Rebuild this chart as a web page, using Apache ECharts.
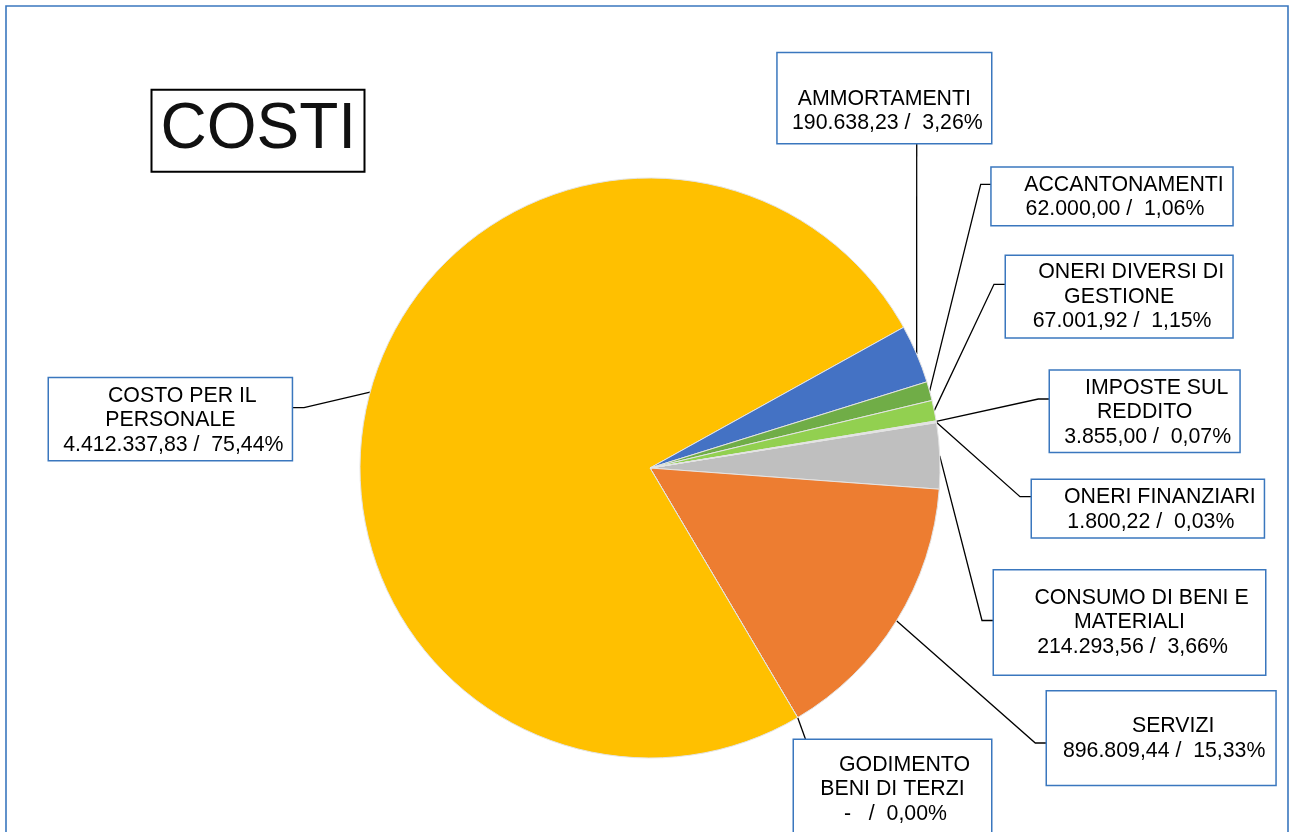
<!DOCTYPE html>
<html>
<head>
<meta charset="utf-8">
<title>COSTI</title>
<style>
  html, body { margin: 0; padding: 0; background: #ffffff; }
  #chart { width: 1293px; height: 832px; }
</style>
<script src="https://cdn.jsdelivr.net/npm/echarts@6/dist/echarts.min.js"></script>
</head>
<body>
<div id="chart"></div>
<script>
// Cost items, in the order they are drawn clockwise
const categories = [
  'CONSUMO DI BENI E MATERIALI',
  'SERVIZI',
  'GODIMENTO BENI DI TERZI',
  'COSTO PER IL PERSONALE',
  'AMMORTAMENTI',
  'ACCANTONAMENTI',
  'ONERI DIVERSI DI GESTIONE',
  'IMPOSTE SUL REDDITO',
  'ONERI FINANZIARI'
];
const amounts = [214293.56, 896809.44, 0, 4412337.83, 190638.23, 62000.00, 67001.92, 3855.00, 1800.22];
const sliceColors = ['#BFBFBF', '#ED7D31', '#A5A5A5', '#FFC000', '#4472C4', '#70AD47', '#92D050', '#D9D9D9', '#D9D9D9'];

// Callout boxes: box rect, centre of first text line, wrap width in characters,
// whether the first line is indented, and the leader elbow / end points.
const callouts = [
  { x: 994,   y: 570.5, w: 271,   h: 104,  firstY: 598,   wrap: 17, indent: true,  elbow: [982, 620.5],   end: [994, 620.5] },
  { x: 1047,  y: 691.5, w: 228.3, h: 93.2, firstY: 726.6, wrap: 40, indent: true,  elbow: [1035.3, 743],  end: [1047, 743] },
  { x: 794,   y: 740,   w: 197,   h: 110,  firstY: 765,   wrap: 13, indent: true,  elbow: [805.8, 740],   end: [805.8, 740] },
  { x: 49,    y: 378.3, w: 242.7, h: 81.7, firstY: 395.8, wrap: 12, indent: true,  elbow: [304, 407.7],   end: [291.7, 407.7] },
  { x: 777.7, y: 53.3,  w: 213.3, h: 89.7, firstY: 98.7,  wrap: 40, indent: false, elbow: [916.7, 143],   end: [916.7, 143] },
  { x: 991.7, y: 167.7, w: 240.6, h: 57.3, firstY: 184.7, wrap: 40, indent: true,  elbow: [980.7, 184.3], end: [991.7, 184.3] },
  { x: 1006,  y: 256,   w: 226.3, h: 81.3, firstY: 272.3, wrap: 16, indent: true,  elbow: [994, 284.3],   end: [1006, 284.3] },
  { x: 1050,  y: 370.7, w: 189.3, h: 81,   firstY: 388,   wrap: 11, indent: true,  elbow: [1038.3, 399],  end: [1050, 399] },
  { x: 1032,  y: 480,   w: 231.7, h: 57.3, firstY: 497.3, wrap: 40, indent: true,  elbow: [1020, 496.7],  end: [1032, 496.7] }
];

const FONT = "'Liberation Sans', Arial, Helvetica, sans-serif";
const FONT_SIZE = 21.3;
const LINE_H = 24.5;
const BOX_BLUE = '#3A77BE';

function wrapWords(text, maxChars) {
  const words = text.split(' ');
  const lines = [];
  let cur = '';
  words.forEach(function (w) {
    if (cur && cur.length + 1 + w.length > maxChars) {
      lines.push(cur);
      cur = w;
    } else {
      cur = cur ? cur + ' ' + w : w;
    }
  });
  if (cur) lines.push(cur);
  return lines;
}

// Italian number format: 4.412.337,83 ; zero shown as a dash
function fmtAmount(v) {
  if (v === 0) return '-  ';
  const parts = v.toFixed(2).split('.');
  return parts[0].replace(/\B(?=(\d{3})+(?!\d))/g, '.') + ',' + parts[1];
}
function fmtPercent(p) {
  return p.toFixed(2).replace('.', ',') + '%';
}

const seriesData = categories.map(function (name, i) {
  const c = callouts[i];
  const lineCount = wrapWords(name, c.wrap).length + 1;
  const padTop = c.firstY - LINE_H / 2 - c.y;
  const padBottom = Math.max(0, c.h - padTop - lineCount * LINE_H);
  return {
    name: name,
    value: amounts[i],
    itemStyle: { color: sliceColors[i] },
    label: { width: c.w, padding: [padTop, 0, padBottom, 0] }
  };
});

function textStyle(extra) {
  return Object.assign({ fontFamily: FONT, fontSize: FONT_SIZE, lineHeight: LINE_H, color: '#000000', align: 'center' }, extra || {});
}

const chart = echarts.init(document.getElementById('chart'), null, { renderer: 'canvas' });

chart.setOption({
  animation: false,
  backgroundColor: '#ffffff',
  title: {
    text: 'COSTI',
    left: 151.7,
    top: 89,
    padding: [9.65, 8.8, 9.65, 8.8],
    borderColor: '#000000',
    borderWidth: 2,
    textStyle: {
      fontFamily: FONT,
      fontSize: 64,
      fontWeight: 'normal',
      lineHeight: 64,
      color: '#111111'
    }
  },
  graphic: [{
    type: 'rect',
    silent: true,
    shape: { x: 6, y: 6, width: 1282, height: 900 },
    style: { fill: 'none', stroke: BOX_BLUE, lineWidth: 1.6 }
  }],
  series: [{
    type: 'pie',
    center: [650, 468],
    radius: 290,
    startAngle: 9,
    clockwise: true,
    avoidLabelOverlap: false,
    minShowLabelAngle: 0,
    itemStyle: { borderColor: '#E4E4E4', borderWidth: 1 },
    label: {
      show: true,
      position: 'outside',
      overflow: 'none',
      fontFamily: FONT,
      fontSize: FONT_SIZE,
      lineHeight: LINE_H,
      color: '#000000',
      backgroundColor: '#ffffff',
      borderColor: BOX_BLUE,
      borderWidth: 1.5,
      formatter: function (p) {
        const c = callouts[p.dataIndex];
        const lines = wrapWords(p.name, c.wrap).map(function (t, k) {
          const style = (k === 0 && c.indent) ? 'h' : 'n';
          return '{' + style + '|' + t + '}';
        });
        lines.push('{v|' + fmtAmount(p.value) + ' /  ' + fmtPercent(p.percent) + '}');
        return lines.join('\n');
      },
      rich: {
        h: textStyle({ padding: [0, 0, 0, 24] }),
        n: textStyle(),
        v: textStyle({ padding: [0, 0, 0, 6] })
      }
    },
    labelLine: {
      show: true,
      length: 10,
      length2: 10,
      lineStyle: { color: '#000000', width: 1.3 }
    },
    labelLayout: function (params) {
      const c = callouts[params.dataIndex];
      const res = {
        x: c.x + c.w / 2,
        y: c.y,
        align: 'center',
        verticalAlign: 'top'
      };
      if (params.labelLinePoints && params.labelLinePoints.length) {
        res.labelLinePoints = [params.labelLinePoints[0], c.elbow, c.end];
      }
      return res;
    },
    emphasis: { disabled: true },
    data: seriesData
  }]
});
</script>
</body>
</html>
